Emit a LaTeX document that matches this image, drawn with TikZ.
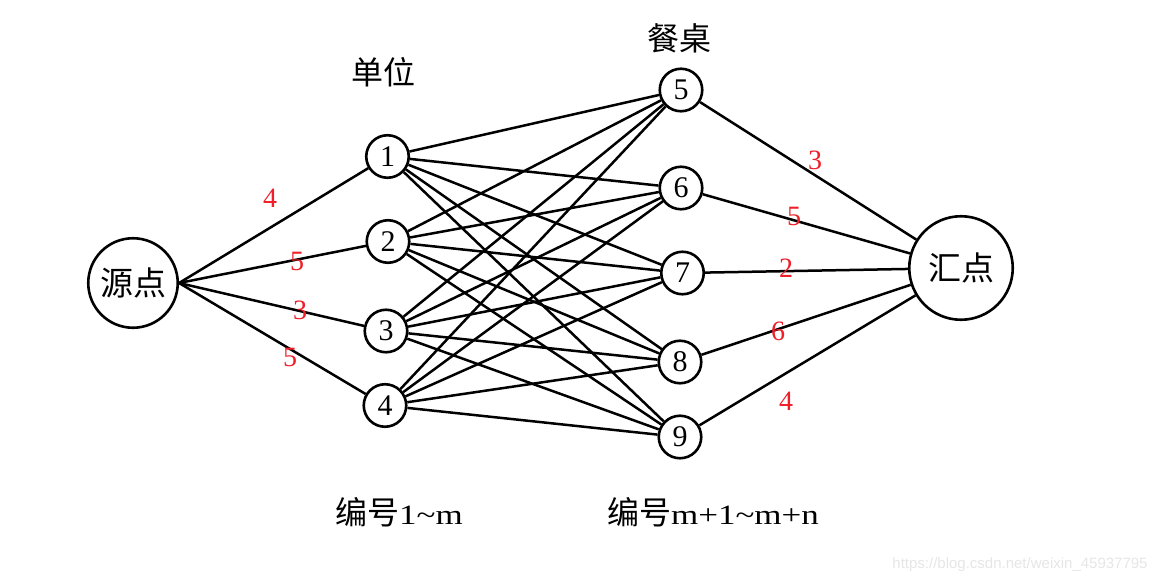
\documentclass[tikz,border=0pt]{standalone}
\usepackage{fontspec}
\setmainfont{Liberation Serif}
\newfontfamily\cjk{Noto Sans CJK SC}
\newfontfamily\wmfont{Liberation Sans}
\newfontfamily\widefont[FakeStretch=1.25]{Liberation Serif}
\definecolor{lab}{RGB}{240,30,40}
\definecolor{wmgray}{RGB}{230,230,230}
\begin{document}
\begin{tikzpicture}[x=1pt,y=-1pt,
  vtx/.style={circle,draw,line width=2.6pt,minimum size=42.5pt,inner sep=0pt,font=\fontsize{30}{31}\selectfont},
  big/.style={circle,draw,line width=2.6pt,inner sep=0pt,font=\cjk\fontsize{33}{36}\selectfont},
  edge/.style={line width=2.5pt},
  wt/.style={text=lab,font=\fontsize{28}{30}\selectfont,inner sep=0pt},
  ttl/.style={font=\cjk\fontsize{32}{34}\selectfont,inner sep=0pt}]
\useasboundingbox (0,0) rectangle (1165,583);

\node[big,minimum size=89.5pt] (s) at (133,283) {源点};
\node[big,minimum size=103.5pt] (t) at (961,268) {汇点};

\node[vtx] (n1) at (387.5,156.5) {1};
\node[vtx] (n2) at (388,241.5) {2};
\node[vtx] (n3) at (386,331) {3};
\node[vtx] (n4) at (385,405.5) {4};
\node[vtx] (n5) at (681,90) {5};
\node[vtx] (n6) at (681,188) {6};
\node[vtx] (n7) at (682.5,273) {7};
\node[vtx] (n8) at (680,362) {8};
\node[vtx] (n9) at (680,437) {9};

\foreach \i in {1,2,3,4} {
  \draw[edge] (s.east) -- (n\i);
  \foreach \j in {5,6,7,8,9} {
    \draw[edge] (n\i) -- (n\j);
  }
}
\foreach \j in {5,6,7,8,9} {
  \draw[edge] (n\j) -- (t);
}

\node[wt] (w1) at (270,198) {4};
\node[wt] (w2) at (297,261) {5};
\node[wt] (w3) at (300,310) {3};
\node[wt] (w4) at (290,357) {5};
\node[wt] (w5) at (815,160) {3};
\node[wt] (w6) at (794,216) {5};
\node[wt] (w7) at (786,268) {2};
\node[wt] (w8) at (778,331) {6};
\node[wt] (w9) at (786,401) {4};

\node[ttl] (l1) at (383,72) {单位};
\node[ttl] (l2) at (679,38) {餐桌};
\node[inner sep=0pt] (b1) at (399,512) {{\cjk\fontsize{32}{34}\selectfont 编号}{\widefont\fontsize{28}{30}\selectfont 1\char`\~m}};
\node[inner sep=0pt] (b2) at (713,512) {{\cjk\fontsize{32}{34}\selectfont 编号}{\widefont\fontsize{28}{30}\selectfont m+1\char`\~m+n}};

\node[text=wmgray,font=\wmfont\fontsize{15}{16}\selectfont,inner sep=0pt] (wm) at (1020,565) {https://blog.csdn.net/weixin\_45937795};
\end{tikzpicture}
\end{document}
